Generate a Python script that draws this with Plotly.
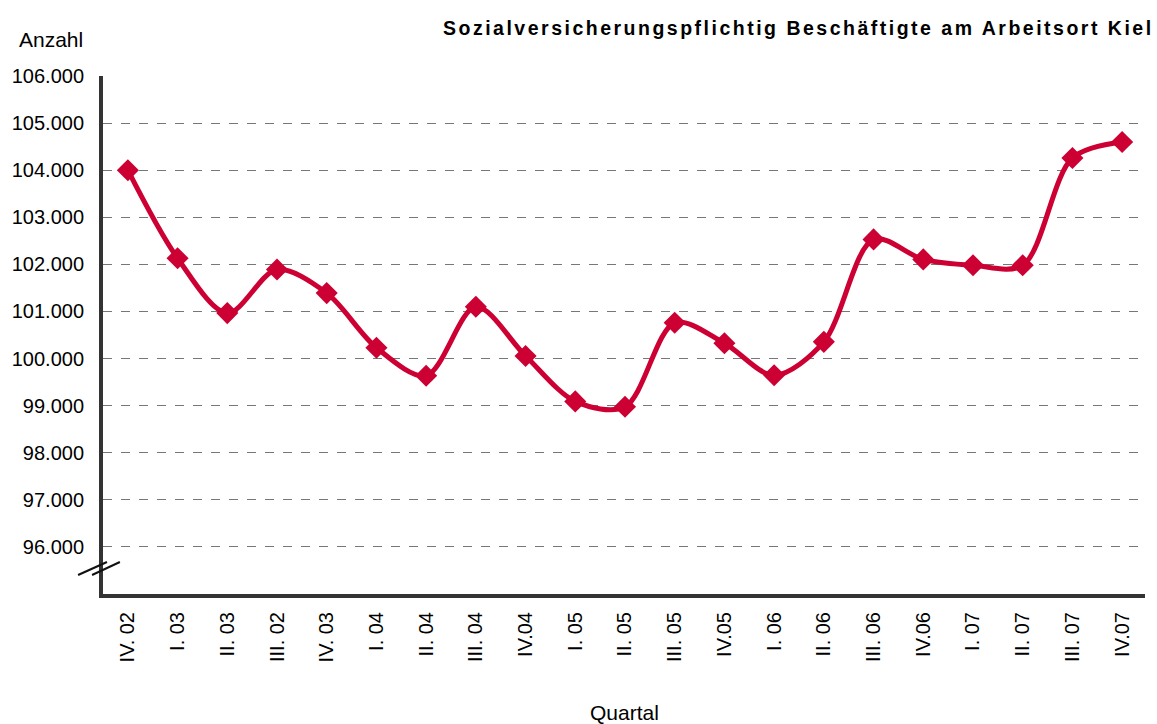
import plotly.graph_objects as go

quarters = ["IV. 02", "I. 03", "II. 03", "III. 02", "IV. 03", "I. 04", "II. 04", "III. 04",
            "IV.04", "I. 05", "II. 05", "III. 05", "IV.05", "I. 06", "II. 06", "III. 06",
            "IV.06", "I. 07", "II. 07", "III. 07", "IV.07"]
beschaeftigte = [104000, 102130, 100965, 101890, 101390, 100230, 99635, 101100,
                 100055, 99090, 98975, 100760, 100325, 99645, 100355, 102530,
                 102105, 101980, 101980, 104260, 104600]
y_ticks = [96000, 97000, 98000, 99000, 100000, 101000, 102000, 103000, 104000, 105000, 106000]

idx = list(range(len(quarters)))
FONT = "Liberation Sans, Arial, sans-serif"
RED = "rgb(204,0,51)"

fig = go.Figure()
fig.add_trace(go.Scatter(
    x=idx, y=beschaeftigte, mode="lines+markers",
    line=dict(color=RED, width=5, shape="spline", smoothing=0.9),
    marker=dict(symbol="diamond", size=17, color=RED),
    hoverinfo="x+y",
))

fig.update_layout(
    width=1157, height=724,
    margin=dict(l=98, r=12, t=76, b=130),
    paper_bgcolor="white", plot_bgcolor="white",
    separators=",.",
    showlegend=False,
    font=dict(family=FONT, size=20, color="#000"),
    xaxis=dict(
        range=[-0.5, 20.46],
        tickmode="array", tickvals=idx, ticktext=quarters,
        tickangle=-90, showgrid=False, zeroline=False,
        showline=True, linecolor="#333", linewidth=4,
        ticks="outside", ticklen=6, tickcolor="rgba(0,0,0,0)",
        tickfont=dict(family=FONT, size=20, color="#000"),
    ),
    yaxis=dict(
        range=[95000, 106000],
        tickmode="array", tickvals=y_ticks, tickformat=",d",
        showgrid=True, gridcolor="#777", gridwidth=1, griddash="dash",
        zeroline=False, showline=True, linecolor="#333", linewidth=4,
        ticks="outside", ticklen=11, tickcolor="rgba(0,0,0,0)",
        tickfont=dict(family=FONT, size=20, color="#000"),
    ),
)

fig.add_annotation(text="<b>Sozialversicherungspflichtig Beschäftigte am Arbeitsort Kiel</b>",
                   xref="paper", yref="paper", x=0.667, y=1.093, xanchor="center", yanchor="middle",
                   showarrow=False, font=dict(family=FONT, size=19.5, color="#000"))
fig.add_annotation(text="Anzahl", xref="paper", yref="paper", x=-0.0821, y=1.0695,
                   xanchor="left", yanchor="middle", showarrow=False,
                   font=dict(family=FONT, size=21, color="#000"))
fig.add_annotation(text="Quartal", xref="paper", yref="paper", x=0.5, y=-0.2297,
                   xanchor="center", yanchor="middle", showarrow=False,
                   font=dict(family=FONT, size=21, color="#000"))

# axis break marks
for x0, x1 in [(-0.0239, 0.0038), (-0.0105, 0.0162)]:
    fig.add_shape(type="line", xref="paper", yref="paper", x0=x0, x1=x1, y0=0.0367, y1=0.0618,
                  line=dict(color="#111", width=2))

post = """
document.body.style.margin = '0';
var gd = document.getElementById('{plot_id}');
gd.querySelectorAll('.annotation-text').forEach(function(t){
  if (t.textContent.indexOf('Sozial') === 0) { t.style.letterSpacing = '2.5px'; }
});
"""
fig.write_html("out.html", post_script=post, config={"displayModeBar": False})
